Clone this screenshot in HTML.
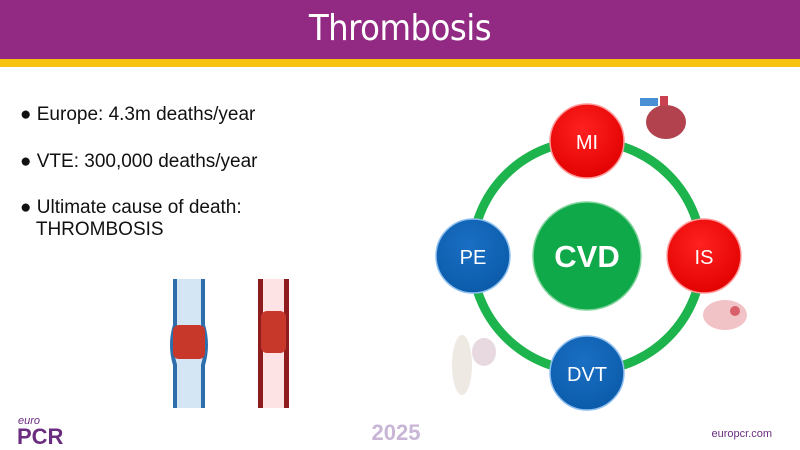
<!DOCTYPE html>
<html><head><meta charset="utf-8"><style>
body{margin:0;width:800px;height:450px;position:relative;background:#fff;font-family:"Liberation Sans",sans-serif;overflow:hidden}
.hdr{position:absolute;left:0;top:0;width:800px;height:59px;background:#922a84}
.yl{position:absolute;left:0;top:59px;width:800px;height:8px;background:#f6c30f}
.t{position:absolute;left:0;width:800px;top:8px;text-align:center;color:#fff;font-size:36px;font-family:"DejaVu Sans Condensed","Liberation Sans Narrow",sans-serif;letter-spacing:-0.5px}
.b{position:absolute;left:20px;font-size:19px;color:#111}
</style></head><body>
<div class="hdr"></div><div class="yl"></div>
<div class="t">Thrombosis</div>
<div class="b" style="top:104px">● Europe: 4.3m deaths/year</div>
<div class="b" style="top:151px">● VTE: 300,000 deaths/year</div>
<div class="b" style="top:197px">● Ultimate cause of death:<br>&nbsp;&nbsp;&nbsp;THROMBOSIS</div>
<svg width="800" height="450" style="position:absolute;left:0;top:0">
<defs>
<radialGradient id="r" cx="0.45" cy="0.35" r="0.7"><stop offset="0" stop-color="#ff2020"/><stop offset="1" stop-color="#e00000"/></radialGradient>
<radialGradient id="bl" cx="0.45" cy="0.35" r="0.7"><stop offset="0" stop-color="#1a6fc4"/><stop offset="1" stop-color="#0a5aa8"/></radialGradient>
</defs>
<circle cx="587" cy="256" r="115" fill="none" stroke="#1db34d" stroke-width="9"/>
<circle cx="587" cy="256" r="54" fill="#10a94a" stroke="#7fd49b" stroke-width="1.5"/>
<text x="587" y="267" text-anchor="middle" fill="#fff" font-size="31" font-weight="bold">CVD</text>
<circle cx="587" cy="141" r="37" fill="url(#r)" stroke="#ff9b9b" stroke-width="1.5"/>
<text x="587" y="149" text-anchor="middle" fill="#fff" font-size="20">MI</text>
<circle cx="704" cy="256" r="37" fill="url(#r)" stroke="#ff9b9b" stroke-width="1.5"/>
<text x="704" y="264" text-anchor="middle" fill="#fff" font-size="20">IS</text>
<circle cx="473" cy="256" r="37" fill="url(#bl)" stroke="#8fc0f0" stroke-width="1.5"/>
<text x="473" y="264" text-anchor="middle" fill="#fff" font-size="20">PE</text>
<circle cx="587" cy="373" r="37" fill="url(#bl)" stroke="#8fc0f0" stroke-width="1.5"/>
<text x="587" y="381" text-anchor="middle" fill="#fff" font-size="20">DVT</text>
<!-- heart -->
<ellipse cx="666" cy="122" rx="20" ry="17" fill="#b2434e"/>
<rect x="640" y="98" width="18" height="8" fill="#4a8fd6"/>
<rect x="660" y="96" width="8" height="10" fill="#c94050"/>
<!-- brain -->
<ellipse cx="725" cy="315" rx="22" ry="15" fill="#f1c3c6"/>
<circle cx="735" cy="311" r="5" fill="#d9606a"/>
<!-- body -->
<ellipse cx="462" cy="365" rx="10" ry="30" fill="#efe9e4"/>
<ellipse cx="484" cy="352" rx="12" ry="14" fill="#e8d8e0"/>
<!-- veins -->
<path d="M175,279 L175,325 Q169,345 175,365 L175,408 L203,408 L203,365 Q209,345 203,325 L203,279Z" fill="#d4e6f4"/>
<path d="M175,279 L175,325 Q169,345 175,365 L175,408" fill="none" stroke="#2e6eaa" stroke-width="4"/>
<path d="M203,279 L203,325 Q209,345 203,365 L203,408" fill="none" stroke="#2e6eaa" stroke-width="4"/>
<rect x="173" y="325" width="32" height="34" rx="6" fill="#c8382a"/>
<rect x="258" y="279" width="31" height="129" fill="#fde3e3"/>
<rect x="258" y="279" width="5" height="129" fill="#8f1c1c"/>
<rect x="284" y="279" width="5" height="129" fill="#8f1c1c"/>
<rect x="261" y="311" width="25" height="42" rx="6" fill="#c8382a"/>
<text x="18" y="424" fill="#6b2d7f" font-size="11" font-style="italic">euro</text>
<text x="17" y="444" fill="#6b2d7f" font-size="22" font-weight="bold">PCR</text>
<text x="396" y="440" text-anchor="middle" fill="#c9b6d6" font-size="22" font-weight="bold">2025</text>
<text x="772" y="437" text-anchor="end" fill="#6b2d7f" font-size="11">europcr.com</text>
</svg>
</body></html>
